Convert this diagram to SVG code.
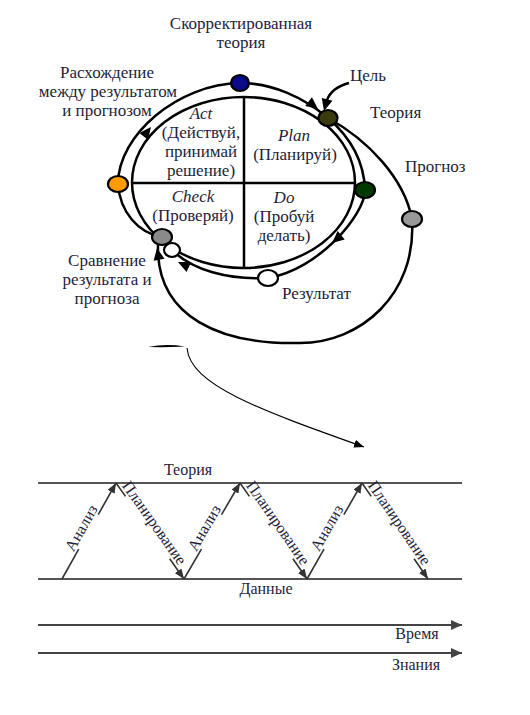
<svg xmlns="http://www.w3.org/2000/svg" xmlns:xlink="http://www.w3.org/1999/xlink" width="530" height="715" viewBox="0 0 530 715">
<style>
  .t { font-family: "Liberation Serif", "Times New Roman", serif; font-size: 17px; fill: #1e1e3a; }
  .tb { font-family: "Liberation Serif", "Times New Roman", serif; font-size: 16px; fill: #1e1e3a; }
  .m { text-anchor: middle; }
  .i { font-style: italic; }
  .c { fill: none; stroke: #000; stroke-width: 2.5; }
  .dot { stroke: #000; stroke-width: 2.2; }
  .z { fill: none; stroke: #333; stroke-width: 1.6; }
  .hl { fill: none; stroke: #555; stroke-width: 2.2; }
</style>
<defs>
  <path id="ah" d="M0,0 L-12,-5.5 L-12,5.5 Z" fill="#000"/>
  <marker id="za" viewBox="0 0 10 8" refX="10" refY="4" markerWidth="10" markerHeight="8" markerUnits="userSpaceOnUse" orient="auto">
    <path d="M0,0 L10,4 L0,8 Z" fill="#333"/>
  </marker>
  <marker id="ta" viewBox="0 0 11 10" refX="11" refY="5" markerWidth="11" markerHeight="10" markerUnits="userSpaceOnUse" orient="auto">
    <path d="M0,0 L11,5 L0,10 Z" fill="#444"/>
  </marker>
  <marker id="sa" viewBox="0 0 10 8" refX="10" refY="4" markerWidth="10" markerHeight="8" markerUnits="userSpaceOnUse" orient="auto">
    <path d="M0,0 L10,4 L0,8 Z" fill="#000"/>
  </marker>
</defs>

<g id="pdca">
  <ellipse cx="243.5" cy="182.5" rx="111.5" ry="85.5" class="c"/>
  <line x1="244" y1="97" x2="244" y2="268" class="c"/>
  <line x1="132" y1="183" x2="355" y2="183" class="c"/>
  <text class="t m i" x="201" y="119">Act</text>
  <text class="t m" x="201" y="138">(Действуй,</text>
  <text class="t m" x="201" y="157">принимай</text>
  <text class="t m" x="201" y="176">решение)</text>
  <text class="t m i" x="294" y="141">Plan</text>
  <text class="t m" x="295" y="160">(Планируй)</text>
  <text class="t m i" x="193" y="202">Check</text>
  <text class="t m" x="193" y="221">(Проверяй)</text>
  <text class="t m i" x="284" y="203">Do</text>
  <text class="t m" x="284" y="222">(Пробуй</text>
  <text class="t m" x="284" y="241">делать)</text>
</g>

<g id="connectors">
  <path class="c" d="M118,184 C118,135 178,84 240,83"/>
  <path class="c" d="M240,83 C272,83 303,97 328,118"/>
  <path class="c" d="M328,118 C350,137 364,160 365,190"/>
  <path class="c" d="M365,190 C365,215 318,270 268,278"/>
  <path class="c" d="M268,278 C228,280 192,270 172,250"/>
  <path class="c" d="M118,184 C120,212 138,233 162,237"/>
  <path class="c" d="M328,118 C368,140 404,178 412,219"/>
  <path class="c" d="M412,219 C417,295 360,343 300,343 C222,345 156,318 158,245"/>
  <path class="c" d="M349,83 C338,86 330,92 327,100"/>
  <use xlink:href="#ah" href="#ah" transform="translate(151,127) rotate(-52)"/>
  <use xlink:href="#ah" href="#ah" transform="translate(318,109) rotate(38)"/>
  <use xlink:href="#ah" href="#ah" transform="translate(324,111) rotate(105)"/>
  <use xlink:href="#ah" href="#ah" transform="translate(332,243) rotate(140)"/>
  <use xlink:href="#ah" href="#ah" transform="translate(178,262) rotate(205)"/>
  <use xlink:href="#ah" href="#ah" transform="translate(157,248) rotate(-100)"/>
  <path d="M148,347 Q166,343.5 185,346.5 Q166,347.5 148,347 Z" fill="#000"/>
  <path d="M187,348 C190,385 260,410 364,447" fill="none" stroke="#000" stroke-width="1.1" marker-end="url(#sa)"/>
</g>

<g id="node-corrected-theory">
  <ellipse class="dot" cx="240" cy="83" rx="9" ry="8" fill="#0a0a8a"/>
  <text class="t m" x="241" y="29">Скорректированная</text>
  <text class="t m" x="241" y="48">теория</text>
</g>
<g id="node-theory">
  <ellipse class="dot" cx="328" cy="118" rx="9.5" ry="8" fill="#3b3a0e"/>
  <text class="t" x="370" y="118">Теория</text>
</g>
<g id="node-goal">
  <text class="t" x="350" y="81">Цель</text>
</g>
<g id="node-plan-out">
  <ellipse class="dot" cx="365" cy="190" rx="10" ry="8" fill="#003a00"/>
</g>
<g id="node-forecast">
  <ellipse class="dot" cx="412" cy="219" rx="10" ry="8" fill="#999999"/>
  <text class="t" x="405" y="172">Прогноз</text>
</g>
<g id="node-result">
  <ellipse class="dot" cx="268" cy="278" rx="10" ry="8" fill="#ffffff"/>
  <text class="t" x="282" y="299">Результат</text>
</g>
<g id="node-check-in">
  <ellipse class="dot" cx="172" cy="250" rx="8" ry="7" fill="#ffffff"/>
</g>
<g id="node-compare">
  <ellipse class="dot" cx="162" cy="237" rx="10" ry="8" fill="#8a8a8a"/>
  <text class="t m" x="107" y="266">Сравнение</text>
  <text class="t m" x="107" y="285">результата и</text>
  <text class="t m" x="107" y="304">прогноза</text>
</g>
<g id="node-discrepancy">
  <ellipse class="dot" cx="118" cy="184" rx="10" ry="8" fill="#ff9c00"/>
  <text class="t m" x="107" y="78">Расхождение</text>
  <text class="t m" x="108" y="97">между результатом</text>
  <text class="t m" x="107" y="116">и прогнозом</text>
</g>

<g id="zigzag">
  <line class="hl" x1="38" y1="483" x2="462" y2="483"/>
  <line class="hl" x1="38" y1="579" x2="462" y2="579"/>
  <text class="tb m" x="188" y="475">Теория</text>
  <text class="tb m" x="266" y="594">Данные</text>

  <line class="z" x1="62" y1="579" x2="78.7" y2="549.2"/>
  <line class="z" x1="98.2" y1="514.7" x2="116" y2="483" marker-end="url(#za)"/>
  <text class="tb m" transform="translate(88.5,532) rotate(-60.6)" y="-3">Анализ</text>

  <line class="z" x1="116" y1="483" x2="125.5" y2="496.4"/>
  <line class="z" x1="169.7" y1="558.8" x2="184" y2="579" marker-end="url(#za)"/>
  <text class="tb m" transform="translate(147.6,527.6) rotate(54.7)" y="-3">Планирование</text>

  <line class="z" x1="184" y1="579" x2="201.4" y2="549.2"/>
  <line class="z" x1="221.5" y1="514.7" x2="240" y2="483" marker-end="url(#za)"/>
  <text class="tb m" transform="translate(211.4,532) rotate(-59.7)" y="-3">Анализ</text>

  <line class="z" x1="240" y1="483" x2="249.4" y2="496.4"/>
  <line class="z" x1="292.9" y1="558.8" x2="307" y2="579" marker-end="url(#za)"/>
  <text class="tb m" transform="translate(271.2,527.6) rotate(55.1)" y="-3">Планирование</text>

  <line class="z" x1="307" y1="579" x2="324" y2="549.2"/>
  <line class="z" x1="343.9" y1="514.7" x2="362" y2="483" marker-end="url(#za)"/>
  <text class="tb m" transform="translate(334,532) rotate(-60.2)" y="-3">Анализ</text>

  <line class="z" x1="362" y1="483" x2="371.2" y2="496.4"/>
  <line class="z" x1="414.1" y1="558.8" x2="428" y2="579" marker-end="url(#za)"/>
  <text class="tb m" transform="translate(392.7,527.6) rotate(55.5)" y="-3">Планирование</text>
</g>

<g id="timelines">
  <line x1="38" y1="625" x2="462" y2="625" stroke="#444" stroke-width="2.2" marker-end="url(#ta)"/>
  <text class="tb m" x="417" y="639">Время</text>
  <line x1="38" y1="653" x2="462" y2="653" stroke="#444" stroke-width="2.2" marker-end="url(#ta)"/>
  <text class="tb m" x="416" y="670">Знания</text>
</g>
</svg>
